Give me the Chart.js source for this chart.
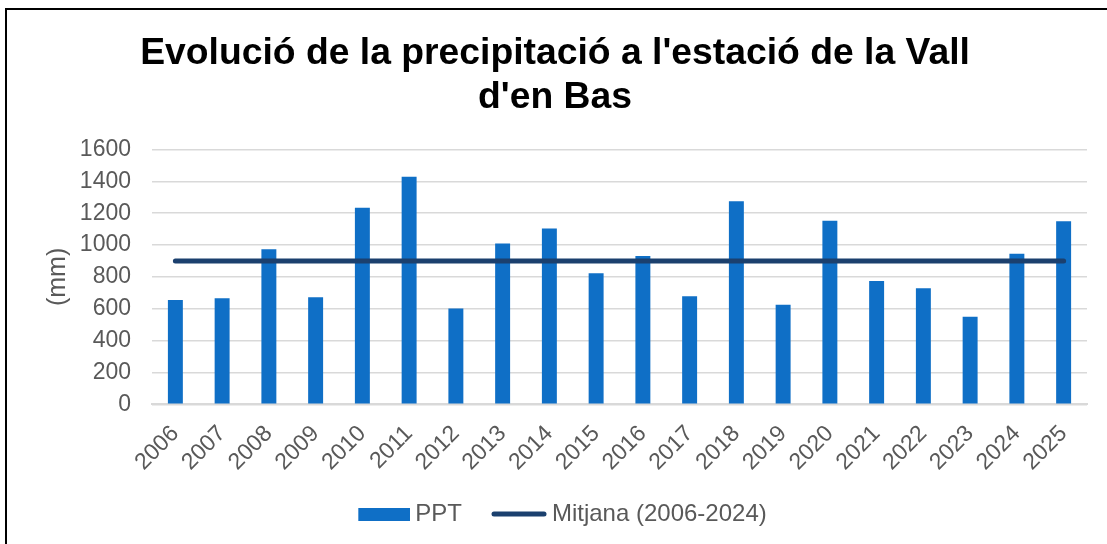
<!DOCTYPE html>
<html>
<head>
<meta charset="utf-8">
<title>Evolució de la precipitació</title>
<script src="https://cdn.jsdelivr.net/npm/chart.js@4"></script>
<style>
  body { margin: 0; background: #fff; overflow: hidden; }
  #frame {
    position: absolute;
    left: 5px;
    top: 8px;
    width: 1110px;
    height: 545px;
    border-top: 2px solid #000;
    border-left: 2px solid #000;
  }
  canvas { display: block; }
</style>
</head>
<body>
<div id="frame">
  <canvas id="chart" width="1100" height="534"></canvas>
</div>
<script>
// ===== Data =====
let years = ["2006", "2007", "2008", "2009", "2010", "2011", "2012", "2013", "2014", "2015",
             "2016", "2017", "2018", "2019", "2020", "2021", "2022", "2023", "2024", "2025"];
let ppt = [655, 666, 973, 673, 1235, 1429, 602, 1010, 1104, 823,
           931, 679, 1275, 625, 1152, 775, 729, 550, 946, 1150];
let mitjana = [900, 900, 900, 900, 900, 900, 900, 900, 900, 900,
               900, 900, 900, 900, 900, 900, 900, 900, 900, 900];
let yTicks = [0, 200, 400, 600, 800, 1000, 1200, 1400, 1600];

// ===== Colours =====
let barColor = "#0f6fc6";
let lineColor = "#1b406e";
let textColor = "#595959";
let gridColor = "#d9d9d9";

// ===== Legend markers =====
// markers sit in the right part of a wider canvas so they stay close to the text
let boxW = 60;
let markerW = boxW + 14;

function makeMarker(h, draw) {
  let c = document.createElement("canvas");
  c.width = markerW;
  c.height = h;
  draw(c.getContext("2d"));
  return c;
}

let barMarker = makeMarker(13, ctx => {
  ctx.fillStyle = barColor;
  ctx.fillRect(markerW - 52, 0, 52, 13);
});

let lineMarker = makeMarker(8, ctx => {
  ctx.strokeStyle = lineColor;
  ctx.lineWidth = 5;
  ctx.lineCap = "round";
  ctx.beginPath();
  ctx.moveTo(markerW - 53, 4);
  ctx.lineTo(markerW - 3, 4);
  ctx.stroke();
});

Chart.defaults.font.family = "'Liberation Sans', Arial, sans-serif";
Chart.defaults.color = textColor;

// ===== Chart =====
new Chart(document.getElementById("chart"), {
  type: "bar",
  data: {
    labels: years,
    datasets: [
      {
        type: "line",
        label: "Mitjana (2006-2024)",
        data: mitjana,
        borderColor: lineColor,
        backgroundColor: lineColor,
        borderWidth: 5,
        borderCapStyle: "round",
        pointRadius: 0,
        pointStyle: lineMarker,
        order: 0
      },
      {
        label: "PPT",
        data: ppt,
        backgroundColor: barColor,
        barPercentage: 0.32,
        categoryPercentage: 1,
        pointStyle: barMarker,
        order: 1
      }
    ]
  },
  options: {
    responsive: false,
    animation: false,
    layout: { padding: { left: 16, right: 20, top: 0, bottom: 8 } },
    plugins: {
      title: {
        display: true,
        text: ["Evolució de la precipitació a l'estació de la Vall", "d'en Bas"],
        color: "#000",
        font: { size: 37.3, weight: "bold" },
        lineHeight: 1.21,
        padding: { top: 21, bottom: 29 }
      },
      legend: {
        position: "bottom",
        reverse: true,
        labels: {
          usePointStyle: true,
          pointStyleWidth: boxW,
          padding: 18,
          font: { size: 24 },
          color: textColor
        }
      },
      tooltip: { enabled: false }
    },
    scales: {
      x: {
        grid: { display: false },
        border: { color: gridColor, width: 2 },
        ticks: {
          font: { size: 23 },
          color: textColor,
          minRotation: 45,
          maxRotation: 45,
          padding: 8
        }
      },
      y: {
        min: 0,
        max: 1600,
        afterBuildTicks: axis => {
          axis.ticks = yTicks.map(v => ({ value: v }));
        },
        afterFit: axis => {
          axis.width = 129;
        },
        grid: { color: gridColor, lineWidth: 1.5, drawTicks: false },
        border: { display: false },
        ticks: {
          font: { size: 23 },
          color: textColor,
          padding: 21,
          callback: v => String(v)
        },
        title: {
          display: true,
          text: "(mm)",
          font: { size: 25 },
          color: textColor,
          padding: { top: 20, bottom: 0 }
        }
      }
    }
  }
});
</script>
</body>
</html>
